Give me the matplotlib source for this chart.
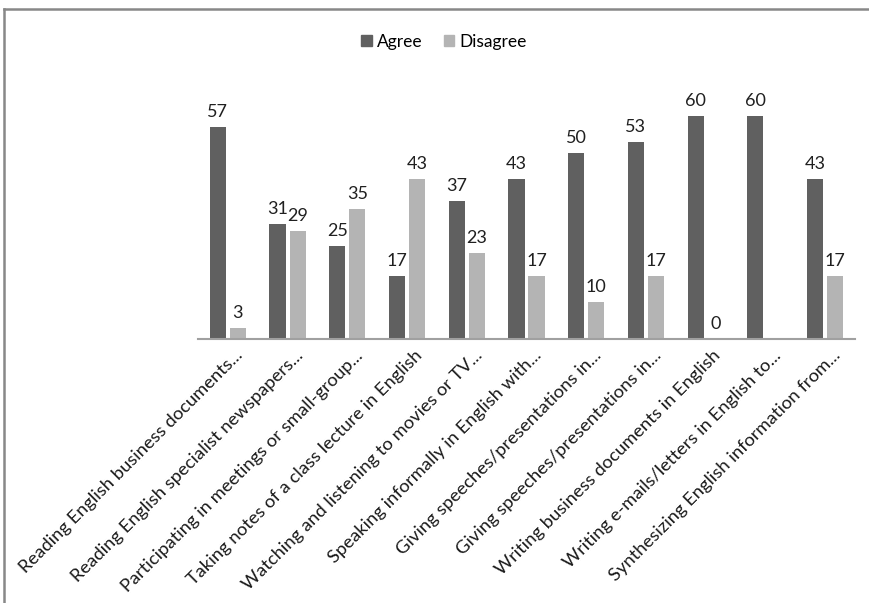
import numpy as np
import matplotlib
matplotlib.use("Agg")
import matplotlib.pyplot as plt
import matplotlib.transforms as mtransforms
from matplotlib.lines import Line2D
from matplotlib.patches import Patch

categories = [
    "Reading English business documents...",
    "Reading English specialist newspapers...",
    "Participating in meetings or small-group...",
    "Taking notes of a class lecture in English",
    "Watching and listening to movies or TV...",
    "Speaking informally in English with...",
    "Giving speeches/presentations in...",
    "Giving speeches/presentations in...",
    "Writing business documents in English",
    "Writing e-mails/letters in English to...",
    "Synthesizing English information from...",
]
agree = [57, 31, 25, 17, 37, 43, 50, 53, 60, 60, 43]
disagree = [3, 29, 35, 43, 23, 17, 10, 17, 0, None, 17]

AGREE_COLOR = "#606060"
DISAGREE_COLOR = "#b4b4b4"
FONT = "Lato"

plt.rcParams["font.family"] = [FONT, "DejaVu Sans"]

W, H = 870, 603
fig = plt.figure(figsize=(W / 100, H / 100), dpi=100)

# axes placed in pixel terms: baseline at y=339, x from 198 to 855
ymax = 70
px_per_unit = 3.72
left, right, base = 198, 855, 339
ax = fig.add_axes([left / W, (H - base) / H, (right - left) / W, ymax * px_per_unit / H])

x = np.arange(len(categories))
bw = 0.27
off = 0.168

a_vals = np.array(agree, dtype=float)
d_vals = np.array([np.nan if v is None else v for v in disagree], dtype=float)

ax.bar(x - off, a_vals, width=bw, color=AGREE_COLOR, label="Agree")
ax.bar(x + off, np.nan_to_num(d_vals), width=bw, color=DISAGREE_COLOR, label="Disagree")

for xi, v in zip(x, a_vals):
    ax.annotate(f"{v:.0f}", (xi - off, v), xytext=(0, 5), textcoords="offset points",
                ha="center", va="bottom", fontsize=13, color="#202020")
for xi, v in zip(x, d_vals):
    if np.isnan(v):
        continue
    ax.annotate(f"{v:.0f}", (xi + off, v), xytext=(0, 5), textcoords="offset points",
                ha="center", va="bottom", fontsize=13, color="#202020")

ax.set_xlim(-0.5, len(categories) - 0.5)
ax.set_ylim(0, ymax)
for s in ["top", "right", "left"]:
    ax.spines[s].set_visible(False)
ax.spines["bottom"].set_color("#a0a0a0")
ax.spines["bottom"].set_linewidth(1.5)
ax.set_yticks([])
ax.set_xticks(x)
ax.set_xticklabels(categories, rotation=45, ha="right", rotation_mode="anchor",
                   fontsize=13.2, color="#1a1a1a")
ax.tick_params(axis="x", length=0, pad=6)
shift = mtransforms.ScaledTranslation(7 / 100, 0, fig.dpi_scale_trans)
for lbl in ax.get_xticklabels():
    lbl.set_transform(lbl.get_transform() + shift)

handles = [Patch(color=AGREE_COLOR), Patch(color=DISAGREE_COLOR)]
fig.legend(handles, ["Agree", "Disagree"], loc="center", bbox_to_anchor=(444 / W, 1 - 42 / H),
           ncol=2, frameon=False, fontsize=12.5, handlelength=0.6, handleheight=0.6,
           handletextpad=0.3, columnspacing=1.2)

# outer chart frame
fig.add_artist(Line2D([4.5 / W, 4.5 / W], [0, 1 - 9 / H], color="#888888", lw=1.8,
                      transform=fig.transFigure))
fig.add_artist(Line2D([4.5 / W, 1], [1 - 9 / H, 1 - 9 / H], color="#888888", lw=1.8,
                      transform=fig.transFigure))

fig.savefig("out.png", dpi=100, facecolor="white")
